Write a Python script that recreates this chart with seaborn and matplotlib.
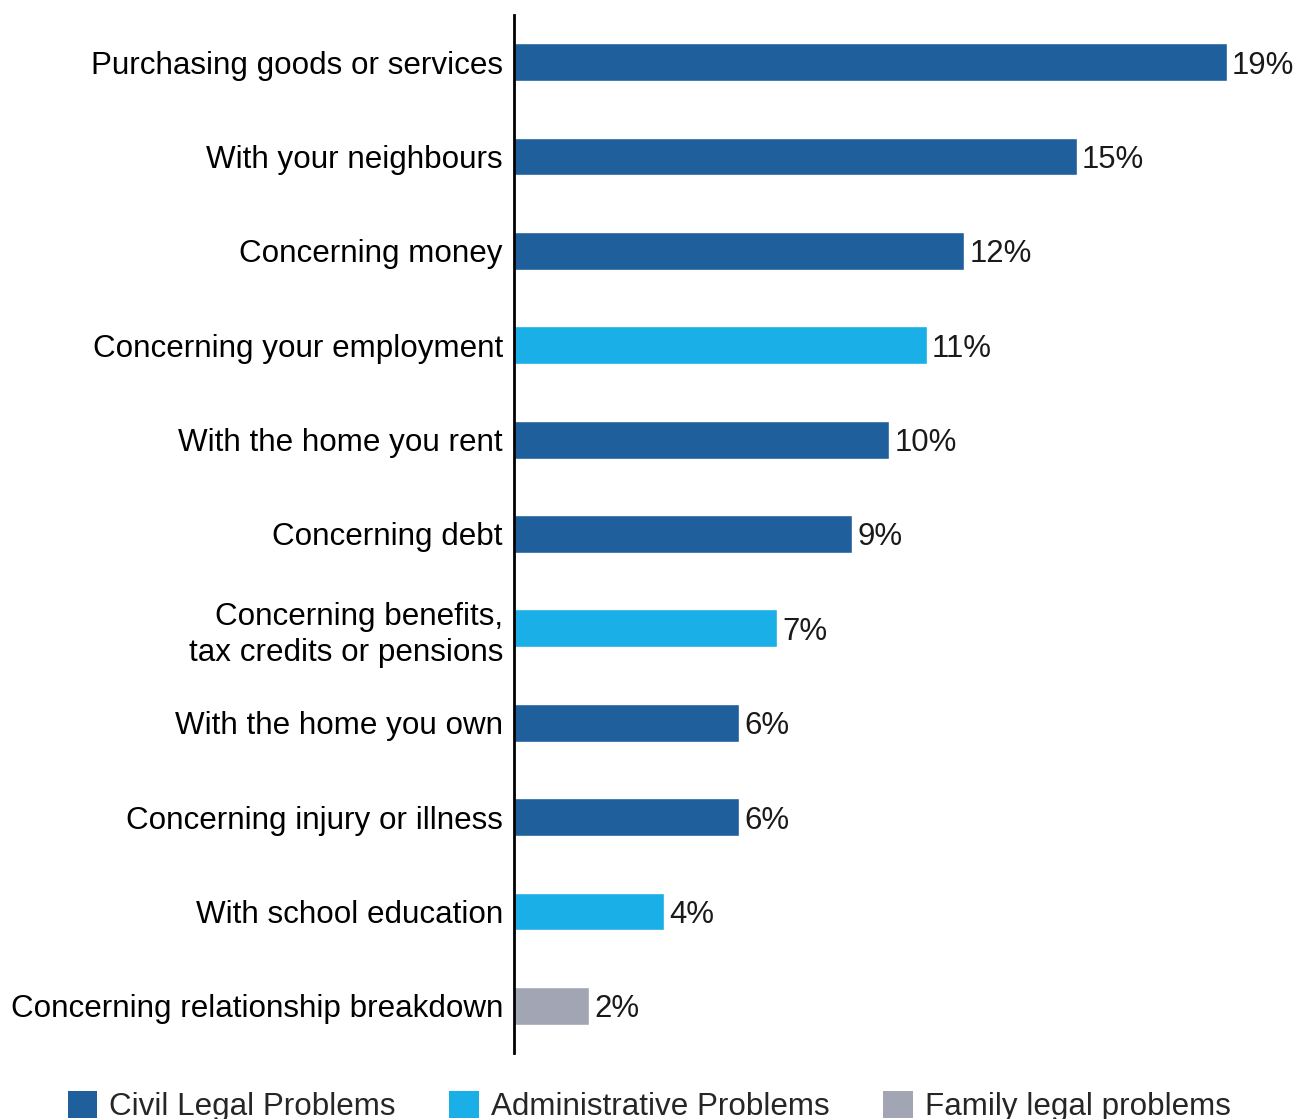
import matplotlib
matplotlib.use("Agg")
import matplotlib.pyplot as plt
import seaborn as sns
import pandas as pd
from matplotlib.patches import Patch

problems = [
    "Purchasing goods or services",
    "With your neighbours",
    "Concerning money",
    "Concerning your employment",
    "With the home you rent",
    "Concerning debt",
    "Concerning benefits,\ntax credits or pensions",
    "With the home you own",
    "Concerning injury or illness",
    "With school education",
    "Concerning relationship breakdown",
]
shares = [19, 15, 12, 11, 10, 9, 7, 6, 6, 4, 2]
groups = [
    "Civil Legal Problems", "Civil Legal Problems", "Civil Legal Problems",
    "Administrative Problems", "Civil Legal Problems", "Civil Legal Problems",
    "Administrative Problems", "Civil Legal Problems", "Civil Legal Problems",
    "Administrative Problems", "Family legal problems",
]
group_order = ["Civil Legal Problems", "Administrative Problems", "Family legal problems"]
group_colors = ["#1F5F9C", "#1AAFE6", "#A2A5B4"]

df = pd.DataFrame({"problem": problems, "share": shares, "group": groups})

sns.set_theme(style="white")
plt.rcParams["font.family"] = ["Liberation Sans", "DejaVu Sans"]

fig = plt.figure(figsize=(12.98, 11.19), dpi=100)
ax = fig.add_axes([514 / 1298, 1 - 1053 / 1119, 1 - 514 / 1298, (1053 - 15) / 1119])

palette = dict(zip(group_order, group_colors))
sns.barplot(data=df, y="problem", x="share", hue="group", hue_order=group_order,
            palette=palette, dodge=False, width=0.4, order=problems,
            saturation=1, legend=False, ax=ax)

for container in ax.containers:
    texts = ax.bar_label(container,
                         labels=[f"{v:.0f}%" if v == v else "" for v in container.datavalues],
                         padding=4, fontsize=22.4, color="#1a1a1a")
    for t in texts:
        t.set_verticalalignment("center_baseline")

ax.set_xlim(0, 784 / 37.5)
ax.set_ylim(len(problems) - 0.5, -0.5)
ax.set_xlabel("")
ax.set_ylabel("")
ax.set_xticks([])
ax.tick_params(axis="y", length=0, pad=8, labelsize=22.6, labelcolor="black")
for s in ["top", "right", "bottom"]:
    ax.spines[s].set_visible(False)
ax.spines["left"].set_color("black")
ax.spines["left"].set_linewidth(2)
for lbl in ax.get_yticklabels():
    lbl.set_horizontalalignment("right")
    lbl.set_multialignment("right")
    lbl.set_linespacing(1.25)

handles = [Patch(facecolor=c, edgecolor="none") for c in group_colors]
fig.legend(handles, group_order, loc="center", bbox_to_anchor=(0.5, 0.011),
           ncol=3, frameon=False, fontsize=22.6, handlelength=0.95, handleheight=0.95,
           handletextpad=0.38, columnspacing=1.7, borderpad=0, borderaxespad=0)

fig.savefig("out.png", dpi=100)
